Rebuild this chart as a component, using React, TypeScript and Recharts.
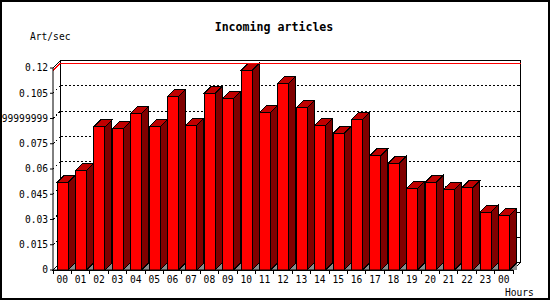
import { BarChart, Bar, XAxis, YAxis, CartesianGrid, ReferenceLine } from "recharts";

const hours = [
  "00", "01", "02", "03", "04", "05", "06", "07", "08", "09", "10", "11",
  "12", "13", "14", "15", "16", "17", "18", "19", "20", "21", "22", "23", "00",
];
const articlesPerSec = [
  0.052, 0.059, 0.085, 0.084, 0.093, 0.085, 0.103, 0.086, 0.105, 0.102, 0.1184, 0.0935,
  0.111, 0.0965, 0.086, 0.081, 0.0895, 0.068, 0.0633, 0.0484, 0.052, 0.0478, 0.049, 0.0344, 0.0324,
];
const yTicks = [0, 0.015, 0.03, 0.045, 0.06, 0.075, 0.09, 0.105, 0.12];
const yTickLabels = ["0", "0.015", "0.03", "0.045", "0.06", "0.075", "0.08999999999", "0.105", "0.12"];

const data = hours.map((h, i) => ({ hour: h, rate: articlesPerSec[i] }));
const maxRate = Math.max(...articlesPerSec);

const FONT = "'DejaVu Sans Mono', monospace";
const DEPTH = 7; // bar depth
const PLANE = 7.5; // back plane offset

const Bar3D = (props: any) => {
  const { x, y, width, height } = props;
  if (height == null || width == null) return null;
  const r = x + width;
  const b = y + height;
  const d = DEPTH;
  return (
    <g shapeRendering="crispEdges">
      <polygon points={`${r},${b} ${r + d},${b - d} ${r + d},${b}`} fill="#8c8c8c" />
      <rect x={x} y={y} width={width} height={height} fill="#ff0000" stroke="#000" />
      <polygon points={`${x},${y} ${x + d},${y - d} ${r + d},${y - d} ${r},${y}`} fill="#c00000" stroke="#000" />
      <polygon points={`${r},${y} ${r + d},${y - d} ${r + d},${b - d} ${r},${b}`} fill="#800000" stroke="#000" />
    </g>
  );
};

const BackGrid = (props: any) => {
  const { x1, x2, y1, index, y, height, x, width } = props;
  const top = y;
  const bottom = y + height;
  const p = PLANE;
  return (
    <g key={`grid-${index}`} shapeRendering="crispEdges">
      {index === 0 && (
        <g>
          <rect x={x + p} y={top - p} width={width} height={height} fill="#fff" stroke="#000" />
          <line x1={x} y1={top} x2={x + p} y2={top - p} stroke="#000" />
          <polygon
            points={`${x},${bottom} ${x + p},${bottom - p} ${x + width + p},${bottom - p} ${x + width},${bottom}`}
            fill="#fff"
            stroke="#000"
          />
        </g>
      )}
      {y1 > top + 0.5 && y1 < bottom - 0.5 && (
        <g>
          <line x1={x1} y1={y1} x2={x1 + p} y2={y1 - p} stroke="#000" strokeDasharray="2 2" />
          <line x1={x1 + p} y1={y1 - p} x2={x2 + p} y2={y1 - p} stroke="#000" strokeDasharray="2 2" />
          <line x1={x2 + p - 3} y1={y1 - p} x2={x2 + p} y2={y1 - p} stroke="#000" />
        </g>
      )}
    </g>
  );
};

const MaxLine = (props: any) => {
  const { x1, x2, y1 } = props;
  const p = PLANE;
  return (
    <g shapeRendering="crispEdges">
      <line x1={x1} y1={y1} x2={x1 + p} y2={y1 - p} stroke="#ff0000" />
      <line x1={x1 + p} y1={y1 - p} x2={x2 + p} y2={y1 - p} stroke="#ff0000" />
    </g>
  );
};

const HourTick = (props: any) => {
  const { x, y, payload, index } = props;
  const half = payload && payload.offset ? payload.offset : 9.2;
  return (
    <g>
      <line x1={x - half} y1={y} x2={x - half} y2={y + 4} stroke="#000" shapeRendering="crispEdges" />
      {index === hours.length - 1 && (
        <line x1={x + half} y1={y} x2={x + half} y2={y + 4} stroke="#000" shapeRendering="crispEdges" />
      )}
      <text x={x} y={y + 13} textAnchor="middle" fontFamily={FONT} fontSize={9.6} fill="#000">
        {payload.value}
      </text>
    </g>
  );
};

export default function App() {
  return (
    <div style={{ position: "absolute", left: 0, top: 0, width: 550, height: 300, background: "#fff" }}>
      <BarChart width={550} height={300} data={data} margin={{ top: 68, right: 37, bottom: 0, left: 0 }} barSize={11}>
        <CartesianGrid vertical={false} horizontal={BackGrid} />
        <ReferenceLine y={maxRate} shape={MaxLine} />
        <XAxis
          dataKey="hour"
          height={30}
          interval={0}
          tickSize={0}
          tickMargin={0}
          tickLine={false}
          axisLine={{ stroke: "#000" }}
          tick={HourTick}
        />
        <YAxis
          width={53}
          domain={[0, 0.12]}
          ticks={yTicks}
          tickSize={3}
          tickMargin={2}
          axisLine={{ stroke: "#000" }}
          tickLine={{ stroke: "#000" }}
          tick={{ fontFamily: FONT, fontSize: 9.6, fill: "#000" }}
          tickFormatter={(v: number) => yTickLabels[yTicks.indexOf(v)] ?? String(v)}
        />
        <Bar dataKey="rate" shape={Bar3D} isAnimationActive={false} />
      </BarChart>
      <svg width={550} height={300} style={{ position: "absolute", left: 0, top: 0, pointerEvents: "none" }}>
        <rect x={1} y={1} width={548} height={298} fill="none" stroke="#000" strokeWidth={2} />
        <text x={274} y={31} textAnchor="middle" fontFamily={FONT} fontWeight="bold" fontSize={11.6} fill="#000">
          Incoming articles
        </text>
        <text x={30} y={40} fontFamily={FONT} fontSize={9.6} fill="#000">
          Art/sec
        </text>
        <text x={505} y={296} fontFamily={FONT} fontSize={9.6} fill="#000">
          Hours
        </text>
      </svg>
    </div>
  );
}
